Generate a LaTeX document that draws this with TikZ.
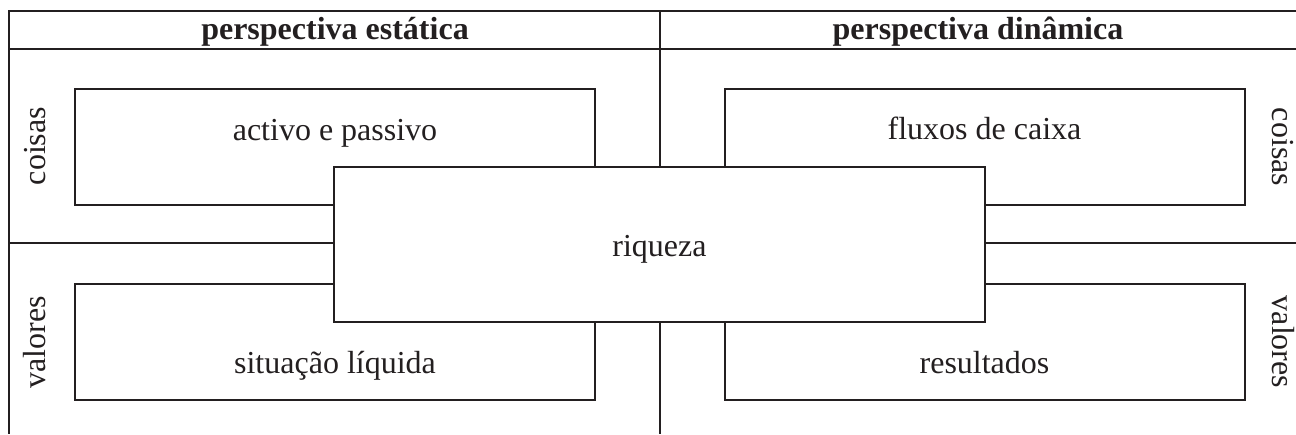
\documentclass[tikz,border=0pt]{standalone}
\usepackage{fontspec}
\setmainfont{Liberation Serif}
\definecolor{ink}{RGB}{35,31,32}
\begin{document}
\begin{tikzpicture}[x=0.5pt,y=-0.5pt,line width=1pt,draw=ink,text=ink,
  box/.style={draw=ink,line width=1pt,inner sep=0pt,minimum width=260pt,minimum height=58pt},
  lbl/.style={anchor=base,inner sep=0pt,text=ink,font=\fontsize{16}{19}\selectfont},
  hdr/.style={anchor=base,inner sep=0pt,text=ink,font=\fontsize{16}{19}\selectfont\bfseries}]
\useasboundingbox (0,0) rectangle (1296,434);
% frame coordinates
\coordinate (tl) at (9,11);
\coordinate (tr) at (1296,11);
\coordinate (hl) at (9,49);
\coordinate (hr) at (1296,49);
\coordinate (bl) at (9,434);
\coordinate (ml) at (9,243);
\coordinate (mr) at (1296,243);
\coordinate (ct) at (660,11);
\coordinate (cb) at (660,434);
\draw[ink] (tr) -- (tl) -- (bl);
\draw[ink] (hl) -- (hr);
\draw[ink] (ml) -- (mr);
\draw[ink] (ct) -- (cb);
% headers
\node[hdr] (hs) at (335,39) {perspectiva estática};
\node[hdr] (hd) at (978,39) {perspectiva dinâmica};
% side labels
\node[lbl,rotate=90] (cl) at (46,146) {coisas};
\node[lbl,rotate=90] (vl) at (46,342) {valores};
\node[lbl,rotate=-90] (cr) at (1272,147) {coisas};
\node[lbl,rotate=-90] (vr) at (1272,342) {valores};
% quadrant boxes
\node[box] (ap) at (335,147) {};
\node[box] (fc) at (984.5,147) {};
\node[box] (sl) at (335,342) {};
\node[box] (rs) at (984.5,342) {};
\node[lbl] (apt) at (335,140) {activo e passivo};
\node[lbl] (fct) at (984.5,139) {fluxos de caixa};
\node[lbl] (slt) at (335,373) {situação líquida};
\node[lbl] (rst) at (984.5,373) {resultados};
% central box
\node[box,fill=white,minimum width=325.5pt,minimum height=77.5pt] (rq) at (659.5,244.5) {};
\node[lbl] (rqt) at (659.5,256) {riqueza};
\end{tikzpicture}
\end{document}
